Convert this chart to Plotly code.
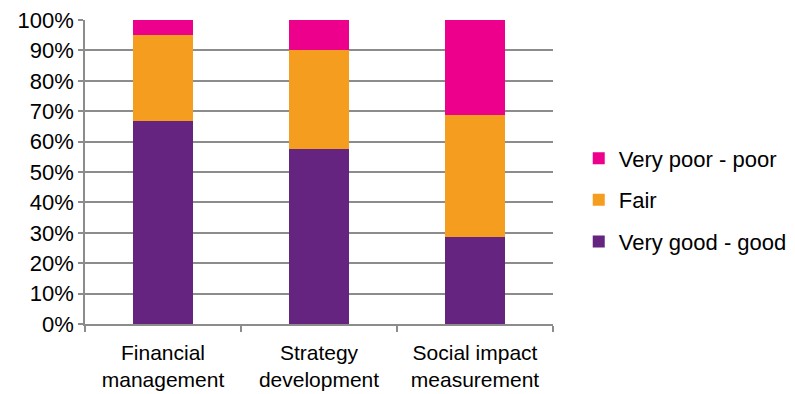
import plotly.graph_objects as go

categories = ["Financial<br>management", "Strategy<br>development", "Social impact<br>measurement"]
good = [0.667, 0.576, 0.287]
fair = [0.284, 0.325, 0.401]
poor = [0.049, 0.099, 0.312]

series_names = ["Very good - good", "Fair", "Very poor - poor"]
colors = ["#65247F", "#F59D1E", "#EC008C"]
ranks = [3, 2, 1]

fig = go.Figure()
for name, vals, col, rk in zip(series_names, [good, fair, poor], colors, ranks):
    fig.add_trace(go.Bar(
        x=categories, y=vals, name=name, legendgroup=name, legendrank=rk,
        marker=dict(color=col, line=dict(width=0)),
        width=0.39,
    ))

font = dict(family="Liberation Sans, Arial, sans-serif", size=22, color="#000000")
xfont = dict(family="Liberation Sans, Arial, sans-serif", size=21, color="#000000")
fig.update_layout(
    barmode="stack",
    width=795, height=394,
    margin=dict(l=85, r=242, t=20, b=70, autoexpand=False),
    paper_bgcolor="white", plot_bgcolor="white",
    font=font,
    legend=dict(
        x=1.055, y=0.408, xanchor="left", yanchor="middle",
        traceorder="grouped", tracegroupgap=10,
        font=font, itemwidth=30,
    ),
    xaxis=dict(
        showline=True, linecolor="#8C8C8C", linewidth=1.5,
        ticks="outside", ticklen=6, tickcolor="#8C8C8C", tickwidth=1.5,
        tickson="boundaries", showgrid=False, automargin=False,
        tickfont=xfont, ticklabelstandoff=9,
    ),
    yaxis=dict(
        range=[0, 1], dtick=0.1, tickformat=".0%",
        showline=True, linecolor="#8C8C8C", linewidth=1.5,
        ticks="outside", ticklen=5, tickcolor="#8C8C8C", tickwidth=1.5,
        showgrid=True, gridcolor="#8C8C8C", gridwidth=1.5,
        zeroline=False, tickfont=font, automargin=False,
    ),
)

fig.write_html("out.html")
